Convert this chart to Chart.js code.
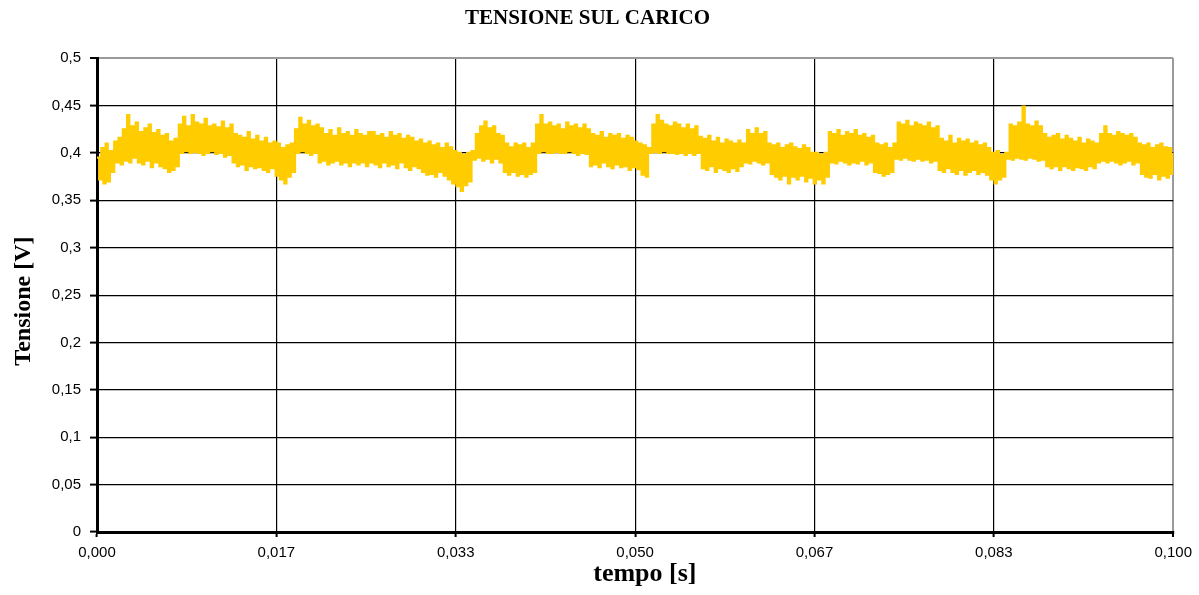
<!DOCTYPE html>
<html>
<head>
<meta charset="utf-8">
<script src="https://cdn.jsdelivr.net/npm/chart.js@4/dist/chart.umd.min.js"></script>
<style>
  html, body { margin: 0; padding: 0; background: #ffffff; }
  #wrap { width: 1199px; height: 595px; }
</style>
</head>
<body>
<div id="wrap"><canvas id="c" width="1199" height="595"></canvas></div>
<script>
// Title and axis titles
const chartTitle = 'TENSIONE SUL CARICO';
const xTitle = 'tempo [s]';
const yTitle = 'Tensione [V]';

// Axis ticks
const xTickValues = [0, 0.0166667, 0.0333333, 0.05, 0.0666667, 0.0833333, 0.1];
const xTickLabels = ['0,000', '0,017', '0,033', '0,050', '0,067', '0,083', '0,100'];
const yTickValues = [0, 0.05, 0.1, 0.15, 0.2, 0.25, 0.3, 0.35, 0.4, 0.45, 0.5];
const yTickLabels = ['0', '0,05', '0,1', '0,15', '0,2', '0,25', '0,3', '0,35', '0,4', '0,45', '0,5'];

// Time span of the record (s)
const tStart = 0;
const tEnd = 0.1;

// Load voltage samples (V), equally spaced over tStart..tEnd
const tensioneV = [
  0.395,0.372,0.405,0.368,0.41,0.37,0.402,0.38,
  0.412,0.39,0.416,0.388,
  0.425,0.392,0.44,0.39,0.428,0.395,0.432,0.39,0.422,0.388,0.426,0.392,0.43,0.385,0.421,0.39,0.424,0.386,
  0.418,0.384,0.42,0.38,0.412,0.382,0.415,0.386,
  0.43,0.40,0.438,0.402,0.428,0.40,0.44,0.401,0.432,0.40,0.43,0.398,0.436,0.40,0.428,0.402,0.43,0.399,0.427,0.40,0.433,0.396,0.426,0.398,0.43,
  0.39,0.42,0.386,0.418,0.388,0.416,0.382,0.422,0.386,0.414,0.384,0.418,0.385,0.412,0.382,0.416,0.38,0.41,0.384,0.412,
  0.376,0.41,0.372,0.405,0.368,0.408,0.375,0.41,0.38,
  0.425,0.40,0.437,0.402,0.43,0.40,0.434,0.398,0.428,0.40,0.43,
  0.39,0.426,0.392,0.42,0.388,0.424,0.39,0.418,0.392,0.426,0.388,0.42,0.39,0.422,0.386,0.418,0.39,0.424,0.388,0.42,0.39,0.418,0.386,0.422,
  0.39,0.422,0.388,0.418,0.385,0.42,0.39,0.416,0.386,0.422,0.388,0.418,0.384,0.42,0.39,0.415,0.385,0.418,0.382,0.416,0.386,0.412,0.384,
  0.414,0.38,0.41,0.377,0.412,0.378,0.408,0.375,0.41,0.38,0.405,0.376,0.41,0.372,0.406,0.368,0.402,
  0.365,0.40,0.36,0.398,0.366,0.40,0.37,0.402,
  0.393,0.42,0.395,0.428,0.392,0.433,0.394,0.426,0.39,0.428,0.394,0.42,0.39,0.418,
  0.38,0.41,0.377,0.406,0.38,0.41,0.376,0.408,0.378,0.41,0.375,0.405,0.378,0.41,0.38,
  0.43,0.40,0.44,0.402,0.43,0.40,0.432,0.40,0.428,0.401,0.43,0.40,0.425,0.40,0.432,0.402,0.428,0.40,0.43,0.398,0.426,0.40,0.43,0.399,0.425,
  0.386,0.42,0.388,0.418,0.385,0.422,0.39,0.416,0.386,0.42,0.384,0.418,0.388,0.42,0.385,0.415,0.386,0.418,0.382,0.416,0.385,0.412,0.383,
  0.41,0.377,0.408,0.375,0.405,
  0.40,0.43,0.401,0.44,0.40,0.434,0.402,0.43,0.40,0.428,0.40,0.432,0.399,0.43,0.40,0.426,0.398,0.43,0.40,0.425,0.398,0.428,0.40,
  0.417,0.384,0.415,0.382,0.418,0.386,0.412,0.38,0.416,0.384,0.41,0.382,0.414,0.38,0.412,0.384,0.41,0.381,0.413,0.386,0.41,
  0.39,0.424,0.389,0.42,0.392,0.426,0.39,0.42,0.388,0.422,0.39,
  0.41,0.378,0.408,0.375,0.41,0.372,0.405,0.376,0.408,0.368,0.41,0.375,0.406,0.372,0.404,0.376,0.408,0.37,0.405,0.374,0.40,
  0.368,0.40,0.372,0.398,0.368,0.40,0.375,
  0.422,0.39,0.42,0.389,0.424,0.392,0.418,0.39,0.422,0.388,0.42,0.39,0.424,0.389,0.418,0.392,0.42,0.388,0.416,0.39,0.418,
  0.38,0.41,0.379,0.408,0.376,0.41,0.378,0.405,0.38,0.41,
  0.394,0.432,0.393,0.43,0.395,0.434,0.393,0.428,0.392,0.432,0.394,0.43,0.392,0.428,0.393,0.432,0.39,0.426,0.392,0.428,
  0.382,0.415,0.38,0.412,0.384,0.418,0.38,0.41,0.378,0.415,0.382,0.412,0.377,0.414,0.38,0.41,0.382,0.412,0.378,0.408,0.38,0.41,0.377,
  0.405,0.372,0.40,0.368,0.402,0.372,0.398,0.375,0.40,
  0.394,0.43,0.393,0.428,0.395,0.432,0.394,0.449,0.393,0.43,0.395,0.428,0.394,0.433,0.392,0.428,0.393,
  0.42,0.386,0.416,0.384,0.418,0.386,0.42,0.382,0.414,0.386,0.418,0.384,0.415,0.382,0.412,0.385,0.416,0.384,0.41,0.382,0.414,0.386,0.412,0.384,0.41,
  0.39,0.42,0.392,0.428,0.39,0.42,0.392,0.418,0.39,0.422,0.388,0.42,0.39,0.418,0.392,0.42,0.388,0.416,0.39,
  0.41,0.378,0.408,0.375,0.41,0.374,0.405,0.378,0.408,0.372,0.41,0.376,0.406,0.374,0.405,0.378,0.40
];

const sampleStep = (tEnd - tStart) / (tensioneV.length - 1);
const points = tensioneV.map((v, i) => ({ x: tStart + i * sampleStep, y: v }));

const ctx = document.getElementById('c').getContext('2d');
new Chart(ctx, {
  type: 'line',
  data: {
    datasets: [{
      data: points,
      borderColor: 'rgb(255,204,0)',
      backgroundColor: 'rgb(255,204,0)',
      borderWidth: 2.2,
      pointRadius: 0,
      stepped: true,
      fill: false
    }]
  },
  options: {
    responsive: false,
    animation: false,
    events: [],
    layout: { padding: { left: 0, right: 24, top: 0, bottom: 0 } },
    plugins: {
      legend: { display: false },
      tooltip: { enabled: false },
      title: {
        display: true,
        text: chartTitle,
        color: '#000',
        font: { family: "'Liberation Serif', 'Times New Roman', serif", size: 21, weight: 'bold' },
        padding: { top: 6, bottom: 27 }
      }
    },
    scales: {
      x: {
        type: 'linear',
        min: tStart,
        max: tEnd,
        afterBuildTicks: (s) => { s.ticks = xTickValues.map(v => ({ value: v })); },
        afterFit: (s) => { s.height = 63; },
        ticks: {
          autoSkip: false,
          maxRotation: 0,
          color: '#000',
          padding: 7,
          font: { family: "'Liberation Sans', Arial, sans-serif", size: 15 },
          callback: (v, i) => xTickLabels[i]
        },
        grid: {
          color: (c) => (c.tick && c.tick.value >= tEnd - 1e-9) ? '#9a9a9a' : '#000',
          lineWidth: (c) => (c.tick && c.tick.value >= tEnd - 1e-9) ? 2 : 1.2,
          tickColor: '#000',
          tickLength: 5,
          tickWidth: 2
        },
        border: { color: '#000', width: 3 },
        title: {
          display: true,
          text: '   ' + xTitle,
          color: '#000',
          font: { family: "'Liberation Serif', 'Times New Roman', serif", size: 26, weight: 'bold' },
          padding: { top: 0, bottom: 5 }
        }
      },
      y: {
        type: 'linear',
        min: 0,
        max: 0.5,
        afterBuildTicks: (s) => { s.ticks = yTickValues.map(v => ({ value: v })); },
        afterFit: (s) => { s.width = 97; },
        ticks: {
          color: '#000',
          padding: 9,
          font: { family: "'Liberation Sans', Arial, sans-serif", size: 15 },
          callback: (v, i) => yTickLabels[i]
        },
        grid: {
          color: (c) => (c.tick && c.tick.value >= 0.5 - 1e-9) ? '#9a9a9a' : '#000',
          lineWidth: (c) => (c.tick && c.tick.value >= 0.5 - 1e-9) ? 2 : 1.2,
          tickColor: '#000',
          tickLength: 7,
          tickWidth: 2
        },
        border: { color: '#000', width: 3 },
        title: {
          display: true,
          text: yTitle + '  ',
          color: '#000',
          font: { family: "'Liberation Serif', 'Times New Roman', serif", size: 24, weight: 'bold' },
          padding: { top: 9, bottom: 0 }
        }
      }
    }
  }
});
</script>
</body>
</html>
